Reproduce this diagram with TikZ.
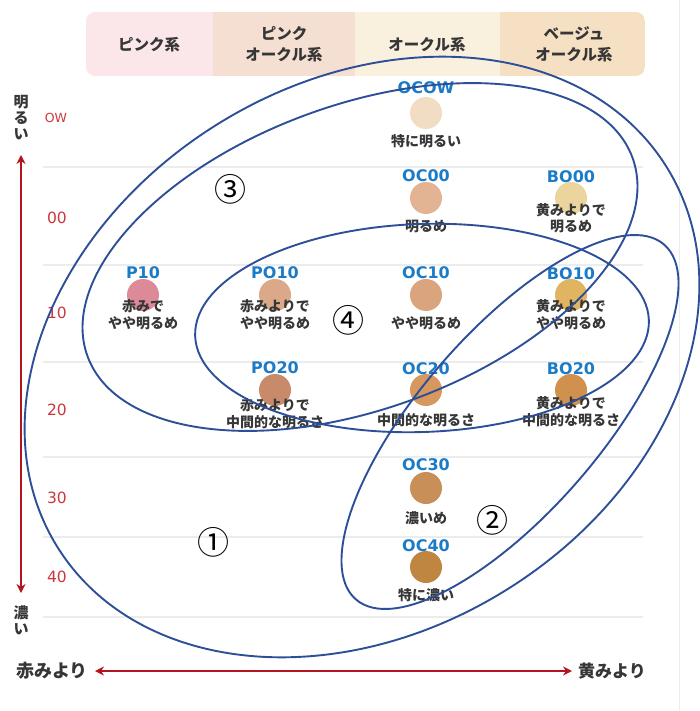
\documentclass[tikz,border=0pt]{standalone}
\usepackage{fontspec}
\setmainfont{Noto Sans CJK JP}
\newfontfamily\codefont{DejaVu Sans}
\usetikzlibrary{arrows.meta}

\definecolor{ringblue}{HTML}{2D4F98}
\definecolor{axisred}{HTML}{B3141D}
\definecolor{tickred}{HTML}{C9373C}
\definecolor{codeblue}{HTML}{1C7BC6}
\definecolor{desctext}{HTML}{363636}
\definecolor{gridgray}{HTML}{ECECEC}
\definecolor{headP}{HTML}{FBE7EA}
\definecolor{headPO}{HTML}{F5DED2}
\definecolor{headOC}{HTML}{F9F0DE}
\definecolor{headBO}{HTML}{F6E0C4}
\definecolor{cP10}{HTML}{DC8A98}
\definecolor{cPO10}{HTML}{DBA98A}
\definecolor{cPO20}{HTML}{C98A6C}
\definecolor{cOCOW}{HTML}{F2DCC4}
\definecolor{cOC00}{HTML}{E3B494}
\definecolor{cBO00}{HTML}{EBD49E}
\definecolor{cOC10}{HTML}{D9A47E}
\definecolor{cBO10}{HTML}{E0B461}
\definecolor{cOC20}{HTML}{D6985E}
\definecolor{cBO20}{HTML}{D0904E}
\definecolor{cOC30}{HTML}{C88F58}
\definecolor{cOC40}{HTML}{BF8642}

\begin{document}
\begin{tikzpicture}[x=1pt, y=-1pt,
    swatch/.style={circle, inner sep=0pt, minimum size=32pt},
    code/.style={text=codeblue, font=\codefont\bfseries\fontsize{16}{16}\selectfont, inner sep=0pt, anchor=base},
    desc/.style={text=desctext, font=\bfseries\fontsize{14}{17}\selectfont, align=center, inner sep=0pt, anchor=base},
    tick/.style={text=tickred, font=\codefont\fontsize{15.5}{15.5}\selectfont, inner sep=0pt},
    headtext/.style={text=desctext, font=\bfseries\fontsize{15.5}{21}\selectfont, align=center, inner sep=0pt},
    axislabel/.style={text=desctext, font=\bfseries\fontsize{15}{16}\selectfont, align=center, inner sep=0pt},
    axisarrow/.style={draw=axisred, line width=2.2pt, {Stealth[length=9pt,width=9pt]}-{Stealth[length=9pt,width=9pt]}},
    gridline/.style={draw=gridgray, line width=1.2pt},
    ring/.style={draw=ringblue, line width=1.9pt},
    ringnum/.style={text=black, font=\fontsize{32}{32}\selectfont, inner sep=0pt}]
  \useasboundingbox (0,0) rectangle (699,711);

  % header bar
  \begin{scope}
    \clip[rounded corners=9pt] (86,12) rectangle (645,76);
    \fill[headP] (86,12) rectangle (213,76);
    \fill[headPO] (213,12) rectangle (355,76);
    \fill[headOC] (355,12) rectangle (500,76);
    \fill[headBO] (500,12) rectangle (645,76);
  \end{scope}
  \node[headtext] (hP) at (149,45) {ピンク系};
  \node[headtext] (hPO) at (284,44) {ピンク\\オークル系};
  \node[headtext] (hOC) at (427,45) {オークル系};
  \node[headtext] (hBO) at (574,44) {ベージュ\\オークル系};

  % grid
  \foreach \gy in {167,265,362,457,537,617}
    \draw[gridline] (43,\gy) -- (643,\gy);
  \draw[draw=gridgray, line width=1pt] (679,0) -- (679,711);

  % level ticks
  \node[tick, font=\codefont\fontsize{12.5}{12.5}\selectfont] (tOW) at (56,118) {OW};
  \foreach \ty/\tn in {218/00, 313/10, 410/20, 498/30, 577/40}
    \node[tick] (t\tn) at (57,\ty) {\tn};

  % axes
  \node[axislabel] (bright) at (21,118) {明\\る\\い};
  \node[axislabel] (dark) at (21,620) {濃\\い};
  \coordinate (vtop) at (21,155);
  \coordinate (vbot) at (21,593);
  \draw[axisarrow] (vtop) -- (vbot);
  \node[axislabel, font=\bfseries\fontsize{18}{18}\selectfont] (reddish) at (52,671) {赤みより};
  \node[axislabel, font=\bfseries\fontsize{17}{17}\selectfont] (yellowish) at (612,671) {黄みより};
  \coordinate (hleft) at (95,671);
  \coordinate (hright) at (572,671);
  \draw[axisarrow] (hleft) -- (hright);

  % swatches
  \node[swatch, fill=cP10] (p10) at (143,295) {};
  \node[code] (p10c) at ([yshift=17pt]p10.center) {P10};
  \node[desc] (p10d) at ([yshift=-33pt]p10.center) {赤みで\\やや明るめ};

  \node[swatch, fill=cPO10] (po10) at (275,295) {};
  \node[code] (po10c) at ([yshift=17pt]po10.center) {PO10};
  \node[desc] (po10d) at ([yshift=-33pt]po10.center) {赤みよりで\\やや明るめ};

  \node[swatch, fill=cPO20] (po20) at (275,390) {};
  \node[code] (po20c) at ([yshift=17pt]po20.center) {PO20};
  \node[desc] (po20d) at ([yshift=-37pt]po20.center) {赤みよりで\\中間的な明るさ};

  \node[swatch, fill=cOCOW] (ocow) at (426,113) {};
  \node[code] (ocowc) at ([yshift=19pt]ocow.center) {OCOW};
  \node[desc] (ocowd) at ([yshift=-34pt]ocow.center) {特に明るい};

  \node[swatch, fill=cOC00] (oc00) at (426,198) {};
  \node[code] (oc00c) at ([yshift=16pt]oc00.center) {OC00};
  \node[desc] (oc00d) at ([yshift=-34pt]oc00.center) {明るめ};

  \node[swatch, fill=cBO00] (bo00) at (571,198) {};
  \node[code] (bo00c) at ([yshift=15pt]bo00.center) {BO00};
  \node[desc] (bo00d) at ([yshift=-34pt]bo00.center) {黄みよりで\\明るめ};

  \node[swatch, fill=cOC10] (oc10) at (426,295) {};
  \node[code] (oc10c) at ([yshift=17pt]oc10.center) {OC10};
  \node[desc] (oc10d) at ([yshift=-33pt]oc10.center) {やや明るめ};

  \node[swatch, fill=cBO10] (bo10) at (571,295) {};
  \node[code] (bo10c) at ([yshift=16pt]bo10.center) {BO10};
  \node[desc] (bo10d) at ([yshift=-33pt]bo10.center) {黄みよりで\\やや明るめ};

  \node[swatch, fill=cOC20] (oc20) at (426,390) {};
  \node[code] (oc20c) at ([yshift=16pt]oc20.center) {OC20};
  \node[desc] (oc20d) at ([yshift=-35pt]oc20.center) {中間的な明るさ};

  \node[swatch, fill=cBO20] (bo20) at (571,390) {};
  \node[code] (bo20c) at ([yshift=16pt]bo20.center) {BO20};
  \node[desc] (bo20d) at ([yshift=-35pt]bo20.center) {黄みよりで\\中間的な明るさ};

  \node[swatch, fill=cOC30] (oc30) at (426,488) {};
  \node[code] (oc30c) at ([yshift=18pt]oc30.center) {OC30};
  \node[desc] (oc30d) at ([yshift=-35pt]oc30.center) {濃いめ};

  \node[swatch, fill=cOC40] (oc40) at (426,567) {};
  \node[code] (oc40c) at ([yshift=16pt]oc40.center) {OC40};
  \node[desc] (oc40d) at ([yshift=-33pt]oc40.center) {特に濃い};

  % groups
  \draw[ring, rotate around={32:(362,357)}] (362,357) ellipse [x radius=359, y radius=274];
  \draw[ring, rotate around={20:(360,257)}] (360,257) ellipse [x radius=290, y radius=152];
  \draw[ring, rotate around={2:(422,328)}] (422,328) ellipse [x radius=227, y radius=104];
  \draw[ring, rotate around={49:(510,422)}] (510,422) ellipse [x radius=235, y radius=90];
  \node[ringnum] (g1) at (213,542) {①};
  \node[ringnum] (g2) at (492,520) {②};
  \node[ringnum] (g3) at (230,189) {③};
  \node[ringnum] (g4) at (348,320) {④};
\end{tikzpicture}
\end{document}
